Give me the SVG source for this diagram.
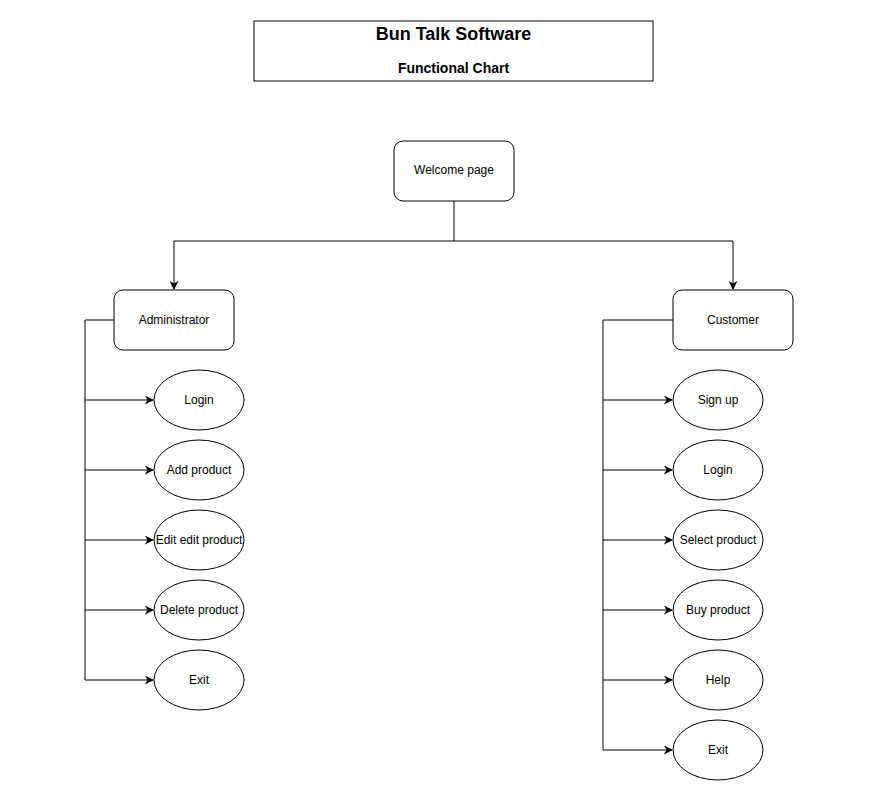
<svg xmlns="http://www.w3.org/2000/svg" width="872" height="807" viewBox="0 0 872 807">
<defs>
<marker id="arr" viewBox="0 0 10 10" refX="9" refY="5" markerWidth="9" markerHeight="9" markerUnits="userSpaceOnUse" orient="auto">
<path d="M0,0 L10,5 L0,10 L3,5 Z" fill="#000"/>
</marker>
<style>
.box{fill:#fff;stroke:#000;stroke-width:1}
.el{fill:#fff;stroke:#000;stroke-width:1}
.t{font-family:"Liberation Sans",Arial,sans-serif;font-size:12px;fill:#000;text-anchor:middle;dominant-baseline:central}
.c{fill:none;stroke:#000;stroke-width:1}
</style>
</defs>
<rect width="872" height="807" fill="#fff"/>
<g id="title">
<rect class="box" x="254" y="21" width="399" height="60"/>
<text class="t" x="453.5" y="34" style="font-size:18px;font-weight:bold">Bun Talk Software</text>
<text class="t" x="453.5" y="68" style="font-size:14px;font-weight:bold">Functional Chart</text>
</g>
<g id="connectors">
<path class="c" d="M454,201 V241 H174 V289" marker-end="url(#arr)"/>
<path class="c" d="M454,241 H733 V289" marker-end="url(#arr)"/>
<path class="c" d="M114,320 H85 V680"/>
<path class="c" d="M85,400 H153" marker-end="url(#arr)"/>
<path class="c" d="M85,470 H153" marker-end="url(#arr)"/>
<path class="c" d="M85,540 H153" marker-end="url(#arr)"/>
<path class="c" d="M85,610 H153" marker-end="url(#arr)"/>
<path class="c" d="M85,680 H153" marker-end="url(#arr)"/>
<path class="c" d="M673,320 H603 V750"/>
<path class="c" d="M603,400 H672" marker-end="url(#arr)"/>
<path class="c" d="M603,470 H672" marker-end="url(#arr)"/>
<path class="c" d="M603,540 H672" marker-end="url(#arr)"/>
<path class="c" d="M603,610 H672" marker-end="url(#arr)"/>
<path class="c" d="M603,680 H672" marker-end="url(#arr)"/>
<path class="c" d="M603,750 H672" marker-end="url(#arr)"/>
</g>
<g id="welcome"><rect class="box" x="394" y="141" width="120" height="60" rx="9"/><text class="t" x="454" y="170">Welcome page</text></g>
<g id="admin"><rect class="box" x="114" y="290" width="120" height="60" rx="9"/><text class="t" x="174" y="319.5">Administrator</text></g>
<g id="customer"><rect class="box" x="673" y="290" width="120" height="60" rx="9"/><text class="t" x="733" y="319.5">Customer</text></g>
<g id="a-login"><ellipse class="el" cx="199" cy="400" rx="45" ry="30"/><text class="t" x="199" y="399.5">Login</text></g>
<g id="a-add"><ellipse class="el" cx="199" cy="470" rx="45" ry="30"/><text class="t" x="199" y="469.5">Add product</text></g>
<g id="a-edit"><ellipse class="el" cx="199" cy="540" rx="45" ry="30"/><text class="t" x="199" y="539.5">Edit edit product</text></g>
<g id="a-delete"><ellipse class="el" cx="199" cy="610" rx="45" ry="30"/><text class="t" x="199" y="609.5">Delete product</text></g>
<g id="a-exit"><ellipse class="el" cx="199" cy="680" rx="45" ry="30"/><text class="t" x="199" y="679.5">Exit</text></g>
<g id="c-signup"><ellipse class="el" cx="718" cy="400" rx="45" ry="30"/><text class="t" x="718" y="399.5">Sign up</text></g>
<g id="c-login"><ellipse class="el" cx="718" cy="470" rx="45" ry="30"/><text class="t" x="718" y="469.5">Login</text></g>
<g id="c-select"><ellipse class="el" cx="718" cy="540" rx="45" ry="30"/><text class="t" x="718" y="539.5">Select product</text></g>
<g id="c-buy"><ellipse class="el" cx="718" cy="610" rx="45" ry="30"/><text class="t" x="718" y="609.5">Buy product</text></g>
<g id="c-help"><ellipse class="el" cx="718" cy="680" rx="45" ry="30"/><text class="t" x="718" y="679.5">Help</text></g>
<g id="c-exit"><ellipse class="el" cx="718" cy="750" rx="45" ry="30"/><text class="t" x="718" y="749.5">Exit</text></g>
</svg>
